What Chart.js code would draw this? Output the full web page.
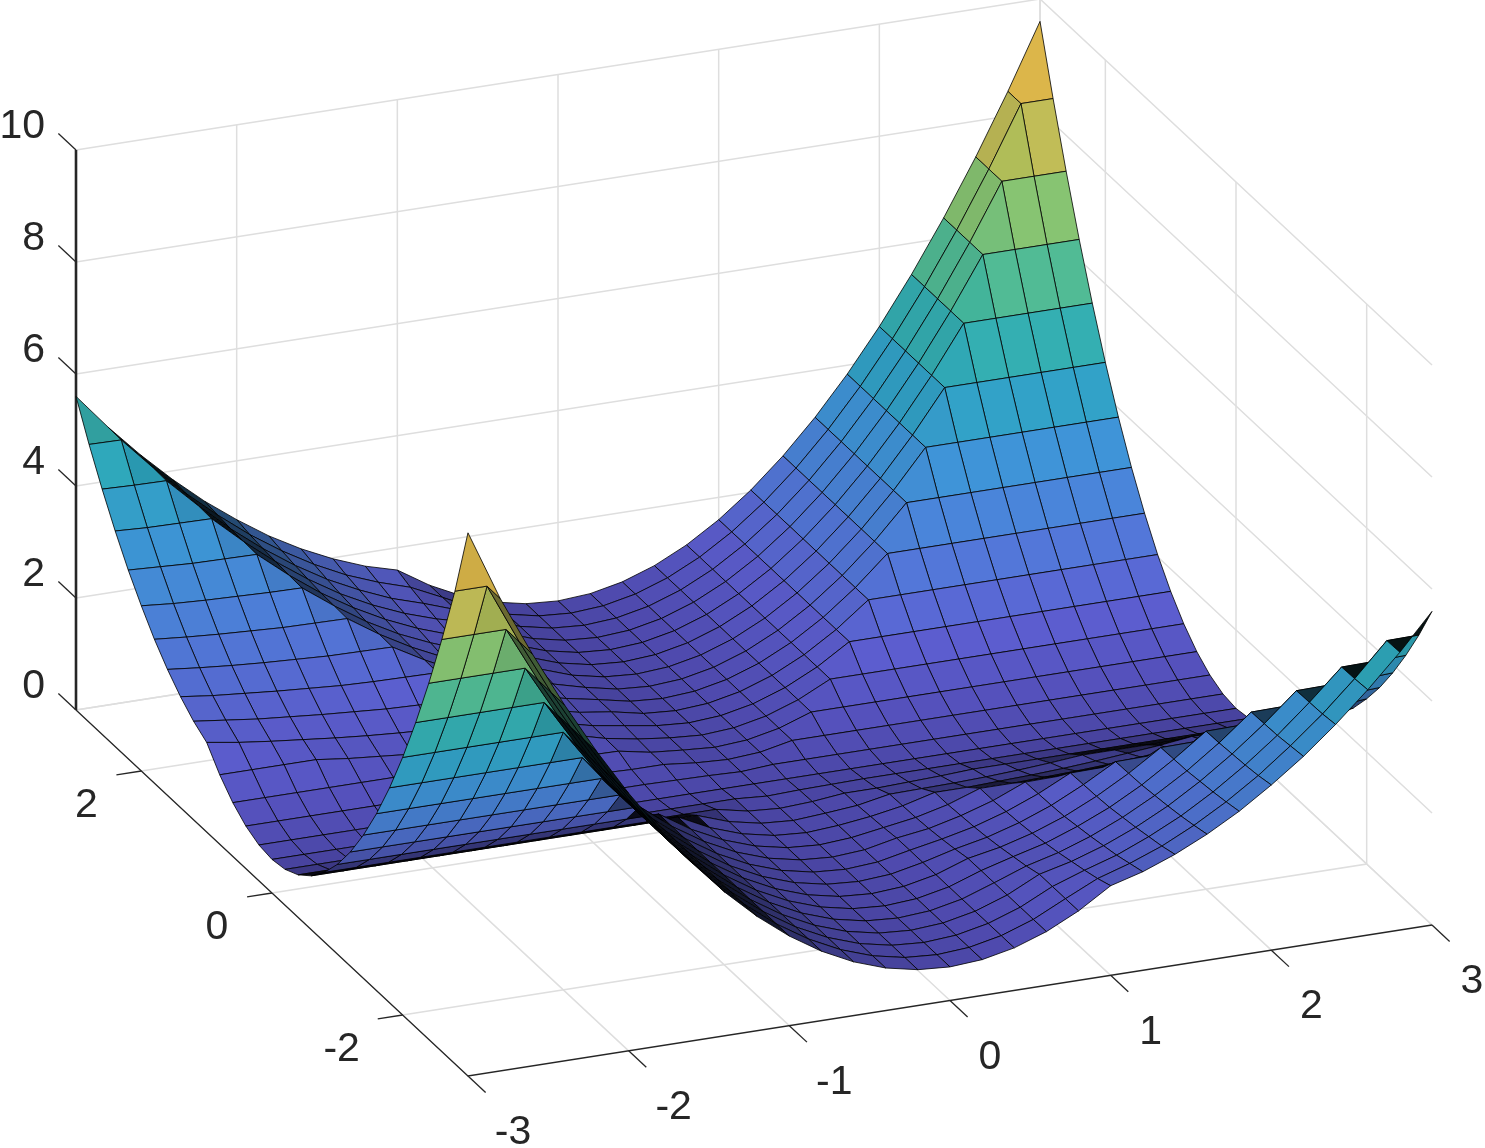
<!DOCTYPE html>
<html>
<head>
<meta charset="utf-8">
<style>
  html, body { margin: 0; background: #fff; }
  canvas { display: block; }
</style>
<script src="https://cdn.jsdelivr.net/npm/chart.js@4/dist/chart.umd.min.js"></script>
</head>
<body>
<canvas id="chart" width="1485" height="1148"></canvas>
<script>
const xValues = [-3,-2.8,-2.6,-2.4,-2.2,-2,-1.8,-1.6,-1.4,-1.2,-1,-0.8,-0.6,-0.4,-0.2,0,0.2,0.4,0.6,0.8,1,1.2,1.4,1.6,1.8,2,2.2,2.4,2.6,2.8,3];
const yValues = [-3,-2.8,-2.6,-2.4,-2.2,-2,-1.8,-1.6,-1.4,-1.2,-1,-0.8,-0.6,-0.4,-0.2,0,0.2,0.4,0.6,0.8,1,1.2,1.4,1.6,1.8,2,2.2,2.4,2.6,2.8,3];

// surface height, one row per yValues entry (y=-3 first)
const zRows = [
  [9.70,8.44,7.36,6.36,5.44,4.60,3.84,3.16,2.56,2.04,1.60,1.24,.96,.76,.64,.60,.64,.76,.96,1.24,1.60,1.76,1.98,2.25,2.57,2.95,3.37,3.85,4.38,4.96,5.60],
  [8.44,8.44,7.36,6.36,5.44,4.60,3.84,3.16,2.56,2.04,1.60,1.24,.96,.76,.64,.60,.64,.76,.96,1.24,1.51,1.69,1.91,2.19,2.52,2.90,3.34,3.82,4.36,4.95,4.96],
  [7.36,7.36,7.36,6.36,5.44,4.60,3.84,3.16,2.56,2.04,1.60,1.24,.96,.76,.64,.60,.64,.76,.96,1.24,1.44,1.62,1.86,2.14,2.48,2.87,3.31,3.81,4.35,4.36,4.38],
  [6.36,6.36,6.36,6.36,5.44,4.60,3.84,3.16,2.56,2.04,1.60,1.24,.96,.76,.64,.60,.64,.76,.96,1.24,1.38,1.57,1.81,2.10,2.45,2.85,3.30,3.80,3.81,3.82,3.85],
  [5.44,5.44,5.44,5.44,5.44,4.60,3.84,3.16,2.56,2.04,1.60,1.24,.96,.76,.64,.60,.64,.76,.96,1.17,1.32,1.52,1.77,2.07,2.42,2.83,3.29,3.30,3.31,3.34,3.37],
  [4.60,4.60,4.60,4.60,4.60,4.60,3.84,3.16,2.56,2.04,1.60,1.24,.96,.76,.64,.60,.64,.76,.96,1.12,1.27,1.48,1.73,2.04,2.41,2.82,2.83,2.85,2.87,2.90,2.95],
  [3.84,3.84,3.84,3.84,3.84,3.84,3.84,3.16,2.56,2.04,1.60,1.24,.96,.76,.64,.60,.64,.76,.96,1.07,1.23,1.44,1.71,2.03,2.40,2.41,2.42,2.45,2.48,2.52,2.57],
  [3.16,3.16,3.16,3.16,3.16,3.16,3.16,3.16,2.56,2.04,1.60,1.24,.96,.76,.64,.60,.64,.76,.91,1.03,1.20,1.42,1.70,2.02,2.03,2.04,2.07,2.10,2.14,2.19,2.25],
  [2.56,2.56,2.56,2.56,2.56,2.56,2.56,2.56,2.56,2.04,1.60,1.24,.96,.76,.64,.60,.64,.76,.87,1.00,1.18,1.41,1.69,1.70,1.71,1.73,1.77,1.81,1.86,1.91,1.98],
  [2.04,2.04,2.04,2.04,2.04,2.04,2.04,2.04,2.04,2.04,1.60,1.24,.96,.76,.64,.60,.64,.76,.84,.98,1.16,1.40,1.41,1.42,1.44,1.48,1.52,1.57,1.62,1.69,1.76],
  [1.60,1.60,1.60,1.60,1.60,1.60,1.60,1.60,1.60,1.60,1.60,1.24,.96,.76,.64,.60,.64,.73,.82,.96,1.16,1.16,1.18,1.20,1.23,1.27,1.32,1.38,1.44,1.51,1.60],
  [1.24,1.24,1.24,1.24,1.24,1.24,1.24,1.24,1.24,1.24,1.24,1.24,.96,.76,.64,.60,.64,.71,.81,.96,.96,.98,1.00,1.03,1.07,1.12,1.17,1.24,1.24,1.24,1.24],
  [.96,.96,.96,.96,.96,.96,.96,.96,.96,.96,.96,.96,.96,.76,.64,.60,.64,.69,.80,.81,.82,.84,.87,.91,.96,.96,.96,.96,.96,.96,.96],
  [.76,.76,.76,.76,.76,.76,.76,.76,.76,.76,.76,.76,.76,.76,.64,.60,.63,.69,.69,.71,.73,.76,.76,.76,.76,.76,.76,.76,.76,.76,.76],
  [.64,.64,.64,.64,.64,.64,.64,.64,.64,.64,.64,.64,.64,.64,.64,.60,.62,.63,.64,.64,.64,.64,.64,.64,.64,.64,.64,.64,.64,.64,.64],
  [.60,.60,.60,.60,.60,.60,.60,.60,.60,.60,.60,.60,.60,.60,.60,.60,.60,.60,.60,.60,.60,.60,.60,.60,.60,.60,.60,.60,.60,.60,.60],
  [.64,.64,.64,.64,.64,.64,.64,.64,.64,.64,.64,.64,.64,.63,.62,.60,.64,.64,.64,.64,.64,.64,.64,.64,.64,.64,.64,.64,.64,.64,.64],
  [.76,.76,.76,.76,.76,.76,.76,.76,.76,.76,.73,.71,.69,.69,.63,.60,.64,.76,.76,.76,.76,.76,.76,.76,.76,.76,.76,.76,.76,.76,.76],
  [.96,.96,.96,.96,.96,.96,.96,.91,.87,.84,.82,.81,.80,.69,.64,.60,.64,.76,.96,.96,.96,.96,.96,.96,.96,.96,.96,.96,.96,.96,.96],
  [1.24,1.24,1.24,1.24,1.17,1.12,1.07,1.03,1.00,.98,.96,.96,.81,.71,.64,.60,.64,.76,.96,1.24,1.24,1.24,1.24,1.24,1.24,1.24,1.24,1.24,1.24,1.24,1.24],
  [1.60,1.51,1.44,1.38,1.32,1.27,1.23,1.20,1.18,1.16,1.16,.96,.82,.73,.64,.60,.64,.76,.96,1.24,1.60,1.60,1.60,1.60,1.60,1.60,1.60,1.60,1.60,1.60,1.60],
  [1.76,1.69,1.62,1.57,1.52,1.48,1.44,1.42,1.41,1.40,1.16,.98,.84,.76,.64,.60,.64,.76,.96,1.24,1.60,2.04,2.04,2.04,2.04,2.04,2.04,2.04,2.04,2.04,2.04],
  [1.98,1.91,1.86,1.81,1.77,1.73,1.71,1.70,1.69,1.41,1.18,1.00,.87,.76,.64,.60,.64,.76,.96,1.24,1.60,2.04,2.56,2.56,2.56,2.56,2.56,2.56,2.56,2.56,2.56],
  [2.25,2.19,2.14,2.10,2.07,2.04,2.03,2.02,1.70,1.42,1.20,1.03,.91,.76,.64,.60,.64,.76,.96,1.24,1.60,2.04,2.56,3.16,3.16,3.16,3.16,3.16,3.16,3.16,3.16],
  [2.57,2.52,2.48,2.45,2.42,2.41,2.40,2.03,1.71,1.44,1.23,1.07,.96,.76,.64,.60,.64,.76,.96,1.24,1.60,2.04,2.56,3.16,3.84,3.84,3.84,3.84,3.84,3.84,3.84],
  [2.95,2.90,2.87,2.85,2.83,2.82,2.41,2.04,1.73,1.48,1.27,1.12,.96,.76,.64,.60,.64,.76,.96,1.24,1.60,2.04,2.56,3.16,3.84,4.60,4.60,4.60,4.60,4.60,4.60],
  [3.37,3.34,3.31,3.30,3.29,2.83,2.42,2.07,1.77,1.52,1.32,1.17,.96,.76,.64,.60,.64,.76,.96,1.24,1.60,2.04,2.56,3.16,3.84,4.60,5.44,5.44,5.44,5.44,5.44],
  [3.85,3.82,3.81,3.80,3.30,2.85,2.45,2.10,1.81,1.57,1.38,1.24,.96,.76,.64,.60,.64,.76,.96,1.24,1.60,2.04,2.56,3.16,3.84,4.60,5.44,6.36,6.36,6.36,6.36],
  [4.38,4.36,4.35,3.81,3.31,2.87,2.48,2.14,1.86,1.62,1.44,1.24,.96,.76,.64,.60,.64,.76,.96,1.24,1.60,2.04,2.56,3.16,3.84,4.60,5.44,6.36,7.36,7.36,7.36],
  [4.96,4.95,4.36,3.82,3.34,2.90,2.52,2.19,1.91,1.69,1.51,1.24,.96,.76,.64,.60,.64,.76,.96,1.24,1.60,2.04,2.56,3.16,3.84,4.60,5.44,6.36,7.36,8.44,8.44],
  [5.60,4.96,4.38,3.85,3.37,2.95,2.57,2.25,1.98,1.76,1.60,1.24,.96,.76,.64,.60,.64,.76,.96,1.24,1.60,2.04,2.56,3.16,3.84,4.60,5.44,6.36,7.36,8.44,9.60]
];

const xTicks = [-3, -2, -1, 0, 1, 2, 3];
const yTicks = [-2, 0, 2];
const zTicks = [0, 2, 4, 6, 8, 10];

// height -> face colour
const colorStops = [
  [0.6, [96, 90, 212]],
  [1.5, [106, 108, 238]],
  [2.5, [90, 140, 245]],
  [3.5, [70, 165, 240]],
  [4.5, [50, 185, 215]],
  [5.5, [65, 200, 180]],
  [6.5, [125, 215, 140]],
  [7.5, [190, 215, 100]],
  [8.5, [245, 195, 90]],
  [9.7, [250, 240, 55]]
];

const GRID = '#dedede';
const AXIS = '#262626';

// fixed MATLAB-style view, orthographic
function project(x, y, z) {
  return {
    x: 754 + 160.67 * x - 65.33 * y,
    y: 817.5 - 25.17 * x - 61 * y - 56 * z
  };
}

function faceColor(z) {
  let i = 1;
  while (i < colorStops.length - 1 && z > colorStops[i][0]) i++;
  const [z0, c0] = colorStops[i - 1];
  const [z1, c1] = colorStops[i];
  const t = Math.max(0, Math.min(1, (z - z0) / (z1 - z0)));
  return c0.map((v, k) => v + (c1[k] - v) * t);
}

// the original mesh is about 3x finer, so cells seen edge-on read almost black.
// darken by how much of the cell such fine lines would cover.
function meshDarkening(pts) {
  let area = 0, perimeter = 0;
  for (let i = 0; i < 4; i++) {
    const a = pts[i], b = pts[i + 1];
    area += a.x * b.y - b.x * a.y;
    perimeter += Math.hypot(b.x - a.x, b.y - a.y);
  }
  area = Math.abs(area) / 2;
  return Math.min(0.9, perimeter / Math.max(area, 1));
}

function lineSet(points, color, width) {
  return {
    data: points,
    showLine: true,
    fill: false,
    borderColor: color,
    borderWidth: width,
    pointRadius: 0,
    clip: false
  };
}

// collected back to front, reversed at the end because Chart.js paints dataset 0 last
const layers = [];

// walls and floor
xTicks.forEach(x => {
  if (x === -3) return;
  layers.push(lineSet([project(x, -3, 0), project(x, 3, 0), project(x, 3, 10)], GRID, 1.5));
});
yTicks.concat(3).forEach(y => {
  layers.push(lineSet([project(-3, y, 0), project(3, y, 0), project(3, y, 10)], GRID, 1.5));
});
zTicks.forEach(z => {
  layers.push(lineSet([project(-3, 3, z), project(3, 3, z), project(3, -3, z)], GRID, 1.5));
});

// axes and tick marks
layers.push(lineSet([project(-3, 3, 0), project(-3, -3, 0), project(3, -3, 0)], AXIS, 1.3));
layers.push(lineSet([project(-3, 3, 0), project(-3, 3, 10)], AXIS, 2.6));
xTicks.forEach(x => {
  layers.push(lineSet([project(x, -3, 0), project(x, -3.27, 0)], AXIS, 1.3));
});
yTicks.forEach(y => {
  layers.push(lineSet([project(-3, y, 0), project(-3.155, y, 0)], AXIS, 1.3));
});
zTicks.forEach(z => {
  layers.push(lineSet([project(-3, 3, z), project(-3, 3.27, z)], AXIS, 1.3));
});

// surface cells, far corner (x=3, y=3) first
for (let j = yValues.length - 2; j >= 0; j--) {
  for (let i = xValues.length - 2; i >= 0; i--) {
    const z00 = zRows[j][i], z10 = zRows[j][i + 1];
    const z01 = zRows[j + 1][i], z11 = zRows[j + 1][i + 1];
    const p0 = project(xValues[i], yValues[j], z00);
    const pts = [
      p0,
      project(xValues[i + 1], yValues[j], z10),
      project(xValues[i + 1], yValues[j + 1], z11),
      project(xValues[i], yValues[j + 1], z01),
      p0
    ];
    const keep = 1 - meshDarkening(pts);
    const c = faceColor((z00 + z10 + z01 + z11) / 4).map(v => Math.round(v * keep));
    layers.push({
      data: pts,
      showLine: true,
      fill: 'shape',
      backgroundColor: `rgb(${c[0]},${c[1]},${c[2]})`,
      borderColor: '#000',
      borderWidth: 0.8,
      borderJoinStyle: 'round',
      pointRadius: 0,
      clip: false
    });
  }
}

const tickText = {
  id: 'tickText',
  afterDraw(chart) {
    const { ctx, scales } = chart;
    const put = (label, p, dx, dy, align) => {
      ctx.textAlign = align;
      ctx.fillText(label, scales.x.getPixelForValue(p.x + dx), scales.y.getPixelForValue(p.y + dy));
    };
    ctx.save();
    ctx.font = '41px "Liberation Sans", Arial, sans-serif';
    ctx.fillStyle = AXIS;
    ctx.textBaseline = 'middle';
    xTicks.forEach(x => put(String(x), project(x, -3, 0), x < 0 ? 45 : 40, 57, 'center'));
    yTicks.forEach(y => put(String(y), project(-3, y, 0), y < 0 ? -61 : -55, 35, 'center'));
    zTicks.forEach(z => put(String(z), project(-3, 3, z), -31, -23, 'right'));
    ctx.restore();
  }
};

new Chart(document.getElementById('chart'), {
  type: 'scatter',
  data: { datasets: layers.reverse() },
  options: {
    responsive: false,
    animation: false,
    events: [],
    layout: { padding: 0 },
    plugins: { legend: { display: false }, tooltip: { enabled: false } },
    scales: {
      x: { type: 'linear', min: 0, max: 1485, display: false },
      y: { type: 'linear', min: 0, max: 1148, reverse: true, display: false }
    }
  },
  plugins: [tickText]
});
</script>
</body>
</html>
